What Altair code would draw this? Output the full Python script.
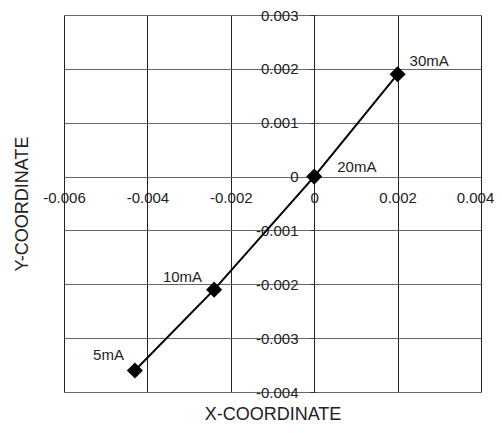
import altair as alt
import pandas as pd

labels = ["5mA", "10mA", "20mA", "30mA"]
x_vals = [-0.0043, -0.0024, 0.0, 0.0020]
y_vals = [-0.0036, -0.0021, 0.0, 0.0019]
order = [1, 2, 3, 4]

x_ticks = [-0.006, -0.004, -0.002, 0, 0.002, 0.004]
y_ticks = [-0.004, -0.003, -0.002, -0.001, 0, 0.001, 0.002, 0.003]

df = pd.DataFrame({"label": labels, "x": x_vals, "y": y_vals, "order": order})

FONT = "Liberation Sans, Arial, Helvetica, sans-serif"
lbl_expr = "datum.value == 0 ? '0' : toString(round(datum.value*1000)/1000)"

xenc = alt.X(
    "x:Q",
    scale=alt.Scale(domain=[-0.006, 0.004], nice=False, zero=False),
    axis=alt.Axis(
        values=x_ticks, title="X-COORDINATE", orient="bottom", offset=-215,
        domain=False, ticks=False, grid=True, gridColor="#222222", gridWidth=1,
        labelExpr=lbl_expr, labelFlush=False, labelOverlap=False, labelBound=False,
        labelOffset={"condition": {"test": "datum.value > 0.0035", "value": -6}, "value": 0},
        labelPadding=13, labelFont=FONT, labelFontSize=15, labelColor="#222222",
        titleFont=FONT, titleFontSize=18, titleFontWeight="normal", titleColor="#222222",
        titleY=237, titleBaseline="middle",
    ),
)
yenc = alt.Y(
    "y:Q",
    scale=alt.Scale(domain=[-0.004, 0.003], nice=False, zero=False),
    axis=alt.Axis(
        values=y_ticks, title="Y-COORDINATE", orient="left", offset=-251,
        domain=False, ticks=True, tickSize=5, tickColor="#333333", tickWidth=1,
        grid=True, gridColor="#666666", gridWidth=1,
        labelExpr=lbl_expr, labelFlush=False, labelOverlap=False, labelBound=False,
        labelPadding=12, labelFont=FONT, labelFontSize=15, labelColor="#222222",
        labelBaseline="middle",
        titleFont=FONT, titleFontSize=18, titleFontWeight="normal", titleColor="#222222",
        titleX=-293, titleAngle=-90, titleBaseline="middle",
    ),
)

base = alt.Chart(df)
line = base.mark_line(color="black", strokeWidth=2).encode(x=xenc, y=yenc, order="order:Q")
pts = base.mark_point(shape="diamond", filled=True, color="black", size=260, opacity=1).encode(
    x="x:Q", y="y:Q")

def lab(name, align, dx, dy):
    return base.transform_filter(alt.datum.label == name).mark_text(
        align=align, baseline="middle", dx=dx, dy=dy, font=FONT, fontSize=15,
        color="#222222").encode(x="x:Q", y="y:Q", text="label:N")

texts = [
    lab("30mA", "left", 12, -13),
    lab("20mA", "left", 23, -10),
    lab("10mA", "right", -12, -13),
    lab("5mA", "right", -11, -15),
]

chart = alt.layer(line, pts, *texts).properties(
    width=417, height=377,
    autosize="none",
    padding={"left": 56, "top": 7, "right": 13, "bottom": 32},
).configure_view(stroke="#8a8a8a", strokeWidth=2).configure(background="white")

chart.save("out.html", embed_options={"renderer": "svg", "actions": False})
